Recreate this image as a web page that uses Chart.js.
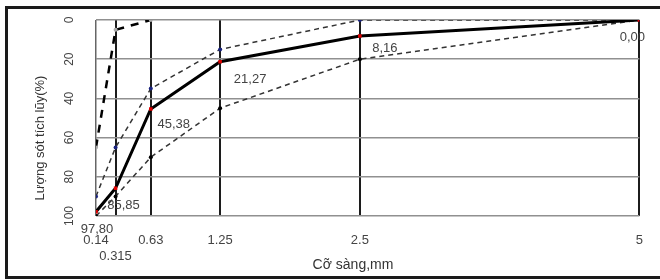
<!DOCTYPE html>
<html>
<head>
<meta charset="utf-8">
<script src="https://cdn.jsdelivr.net/npm/chart.js@4.4.1/dist/chart.umd.min.js"></script>
<style>
  html, body { margin: 0; padding: 0; background: #fff; }
  canvas { display: block; }
</style>
</head>
<body>
<canvas id="gradingChart" width="660" height="280"></canvas>
<script>
// Sieve sizes (mm) and cumulative retained (%)
const sieveSizes = [0.14, 0.315, 0.63, 1.25, 2.5, 5];
const retained = [97.80, 85.85, 45.38, 21.27, 8.16, 0.00];
const retainedLabels = ['97,80', '85,85', '45,38', '21,27', '8,16', '0,00'];
const upperLimit = [90, 65, 35, 15, 0, 0];
const lowerLimit = [100, 90, 70, 45, 20, 0];
const coarseLimit = [65, 5, 0, null, null, null];
const yTicks = [0, 20, 40, 60, 80, 100];

const FONT = '"Liberation Sans", Arial, sans-serif';

function toPoints(values) {
    return sieveSizes
        .map((x, i) => ({ x: x, y: values[i] }))
        .filter(p => p.y !== null);
}

// where each value label sits relative to its point
const labelOffsets = [[1, 18], [8, 17], [23, 15], [30, 18], [25, 12], [-7, 17]];

const extrasPlugin = {
    id: 'extras',
    afterDatasetsDraw(chart) {
        const ctx = chart.ctx;
        const yScale = chart.scales.y;
        ctx.save();
        ctx.fillStyle = '#444';
        ctx.textAlign = 'center';
        ctx.textBaseline = 'middle';

        // value labels on the main curve
        ctx.font = '13px ' + FONT;
        chart.getDatasetMeta(0).data.forEach((pt, i) => {
            ctx.fillText(retainedLabels[i], pt.x + labelOffsets[i][0], pt.y + labelOffsets[i][1]);
        });

        // rotated y tick labels
        ctx.font = '12px ' + FONT;
        yTicks.forEach(v => {
            ctx.save();
            ctx.translate(70, yScale.getPixelForValue(v));
            ctx.rotate(-Math.PI / 2);
            ctx.fillText(String(v), 0, 0);
            ctx.restore();
        });

        // axis titles
        ctx.fillStyle = '#333';
        ctx.font = '13px ' + FONT;
        ctx.save();
        ctx.translate(40, 138);
        ctx.rotate(-Math.PI / 2);
        ctx.fillText('Lượng sót tích lũy(%)', 0, 0);
        ctx.restore();
        ctx.font = '14px ' + FONT;
        ctx.fillText('Cỡ sàng,mm', 353, 265);

        // outer frame
        ctx.strokeStyle = '#1a1a1a';
        ctx.lineWidth = 3;
        ctx.strokeRect(6.5, 7.5, 660, 270);
        ctx.restore();
    }
};

document.addEventListener('DOMContentLoaded', function() {
    new Chart(document.getElementById('gradingChart'), {
        type: 'line',
        data: {
            datasets: [
                {
                    data: toPoints(retained),
                    borderColor: '#000',
                    borderWidth: 3,
                    pointStyle: 'rect',
                    pointRadius: 2.5,
                    pointBackgroundColor: '#e00000',
                    pointBorderColor: '#e00000',
                    pointBorderWidth: 0
                },
                {
                    data: toPoints(upperLimit),
                    borderColor: '#333',
                    borderWidth: 1.5,
                    borderDash: [5, 4],
                    pointRadius: 2,
                    pointBackgroundColor: '#1a237e',
                    pointBorderColor: '#1a237e',
                    pointBorderWidth: 0
                },
                {
                    data: toPoints(lowerLimit),
                    borderColor: '#333',
                    borderWidth: 1.5,
                    borderDash: [5, 4],
                    pointRadius: 2,
                    pointBackgroundColor: '#000',
                    pointBorderColor: '#000',
                    pointBorderWidth: 0
                },
                {
                    data: toPoints(coarseLimit),
                    borderColor: '#000',
                    borderWidth: 2.5,
                    borderDash: [8, 7],
                    pointRadius: 2,
                    pointBackgroundColor: '#aaa',
                    pointBorderColor: '#aaa',
                    pointBorderWidth: 0
                }
            ]
        },
        options: {
            responsive: false,
            animation: false,
            devicePixelRatio: 1,
            layout: { padding: { left: 0, top: 20, right: 12, bottom: 0 } },
            plugins: {
                legend: { display: false },
                tooltip: { enabled: false }
            },
            scales: {
                x: {
                    type: 'linear',
                    min: 0.14,
                    max: 5,
                    afterBuildTicks: scale => {
                        scale.ticks = sieveSizes.map(v => ({ value: v }));
                    },
                    afterFit: scale => { scale.height = 64; },
                    border: { display: false },
                    grid: {
                        drawTicks: false,
                        color: c => c.index === 0 ? '#666' : '#1c1c1c',
                        lineWidth: c => c.index === 0 ? 1.5 : 2
                    },
                    ticks: {
                        autoSkip: false,
                        maxRotation: 0,
                        padding: 17,
                        color: '#444',
                        font: { family: FONT, size: 13 },
                        callback: v => v === 0.315 ? ['', '0.315'] : String(v)
                    }
                },
                y: {
                    reverse: true,
                    min: 0,
                    max: 100,
                    afterBuildTicks: scale => {
                        scale.ticks = yTicks.map(v => ({ value: v }));
                    },
                    afterFit: scale => { scale.width = 96; },
                    border: { display: false },
                    grid: {
                        drawTicks: false,
                        color: '#909090',
                        lineWidth: 1.5
                    },
                    ticks: { display: false }
                }
            }
        },
        plugins: [extrasPlugin]
    });
});
</script>
</body>
</html>
